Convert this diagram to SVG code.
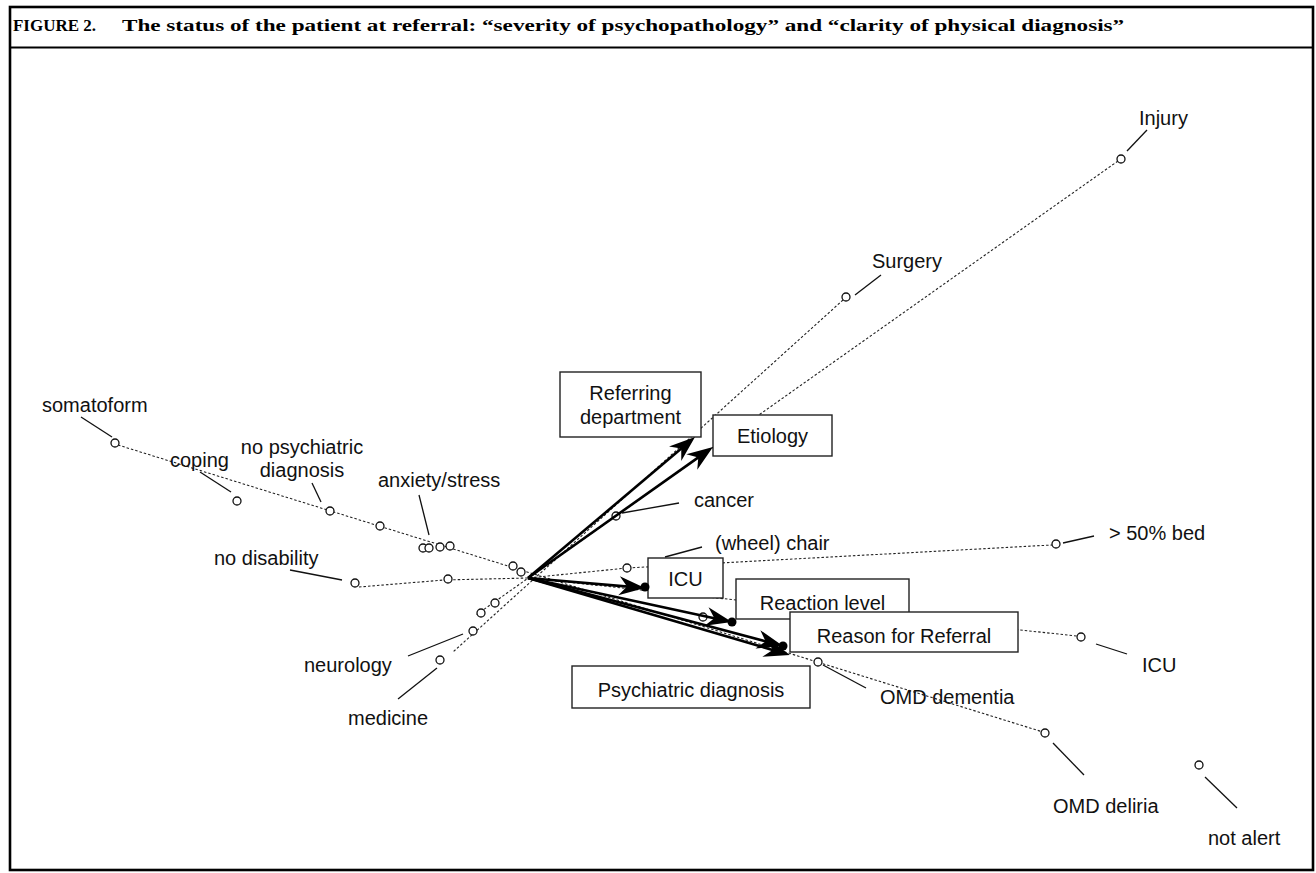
<svg xmlns="http://www.w3.org/2000/svg" width="1316" height="873" viewBox="0 0 1316 873">
<style>
.ttl{font-family:"Liberation Serif","Times New Roman",serif;font-weight:bold;font-size:17.5px;fill:#000}
.lbl{font-family:"Liberation Sans",Arial,sans-serif;font-size:20px;fill:#111}
.box{fill:#fff;stroke:#222;stroke-width:1.4}
.dot{fill:none;stroke:#222;stroke-width:1.1;stroke-dasharray:2.5 2}
.pt{fill:#fff;stroke:#111;stroke-width:1.3}
.ldr{stroke:#111;stroke-width:1.3;fill:none}
.arr{stroke:#000;stroke-width:2.6;fill:none;marker-end:url(#ah)}
.tip{fill:#000}
</style>
<defs>
<marker id="ah" viewBox="-16 -11 30 22" refX="0" refY="0" markerWidth="30" markerHeight="22" markerUnits="userSpaceOnUse" orient="auto">
<path d="M11,0 L-15,-9.5 L-7,0 L-15,9.5 Z" fill="#000"/>
</marker>
</defs>
<rect x="0" y="0" width="1316" height="873" fill="#fff"/>
<g id="frame">
<rect x="10" y="7" width="1303" height="863" fill="none" stroke="#000" stroke-width="2.6"/>
<line x1="10" y1="47.5" x2="1313" y2="47.5" stroke="#000" stroke-width="2"/>
<text class="ttl" x="13" y="31" textLength="83" lengthAdjust="spacingAndGlyphs">FIGURE 2.</text>
<text class="ttl" transform="translate(122,31) scale(1.31,1)" x="0" y="0" textLength="765" lengthAdjust="spacingAndGlyphs">The status of the patient at referral: “severity of psychopathology” and “clarity of physical diagnosis”</text>
</g>
<g id="connectors">
<line class="dot" x1="118" y1="445" x2="1043" y2="732"/>
<polyline class="dot" points="359,587 444,580 528,578 627,568 1052,545"/>
<line class="dot" x1="1118" y1="161" x2="476" y2="615"/>
<line class="dot" x1="843" y1="300" x2="453" y2="652"/>
<line class="dot" x1="528" y1="578" x2="1077" y2="636"/>
<line class="ldr" x1="81" y1="417" x2="112" y2="437"/>
<line class="ldr" x1="200" y1="472" x2="231" y2="492"/>
<line class="ldr" x1="312" y1="483" x2="321" y2="502"/>
<line class="ldr" x1="419" y1="495" x2="429" y2="535"/>
<line class="ldr" x1="290" y1="570" x2="342" y2="580"/>
<line class="ldr" x1="408" y1="656" x2="463" y2="634"/>
<line class="ldr" x1="398" y1="699" x2="437" y2="668"/>
<line class="ldr" x1="1147" y1="130" x2="1127" y2="151"/>
<line class="ldr" x1="881" y1="275" x2="855" y2="295"/>
<line class="ldr" x1="679" y1="503" x2="622" y2="513"/>
<line class="ldr" x1="702" y1="547" x2="665" y2="557"/>
<line class="ldr" x1="1063" y1="543" x2="1094" y2="536"/>
<line class="ldr" x1="1096" y1="644" x2="1127" y2="654"/>
<line class="ldr" x1="823" y1="665" x2="866" y2="688"/>
<line class="ldr" x1="1053" y1="743" x2="1084" y2="775"/>
<line class="ldr" x1="1205" y1="777" x2="1237" y2="808"/>
</g>
<g id="points">
<circle class="pt" cx="115" cy="443" r="4"/>
<circle class="pt" cx="237" cy="501" r="4"/>
<circle class="pt" cx="330" cy="511" r="4"/>
<circle class="pt" cx="380" cy="526" r="4"/>
<circle class="pt" cx="423" cy="548" r="4"/>
<circle class="pt" cx="429" cy="548" r="4"/>
<circle class="pt" cx="440" cy="547" r="4"/>
<circle class="pt" cx="450" cy="546" r="4"/>
<circle class="pt" cx="513" cy="566" r="4"/>
<circle class="pt" cx="521" cy="572" r="4"/>
<circle class="pt" cx="355" cy="583" r="4"/>
<circle class="pt" cx="448" cy="579" r="4"/>
<circle class="pt" cx="495" cy="603" r="4"/>
<circle class="pt" cx="481" cy="613" r="4"/>
<circle class="pt" cx="473" cy="631" r="4"/>
<circle class="pt" cx="440" cy="660" r="4"/>
<circle class="pt" cx="616" cy="516" r="4"/>
<circle class="pt" cx="627" cy="568" r="4"/>
<circle class="pt" cx="1056" cy="544" r="4"/>
<circle class="pt" cx="846" cy="297" r="4"/>
<circle class="pt" cx="1121" cy="159" r="4"/>
<circle class="pt" cx="703" cy="617" r="4"/>
<circle class="pt" cx="1081" cy="637" r="4"/>
<circle class="pt" cx="818" cy="662" r="4"/>
<circle class="pt" cx="1045" cy="733" r="4"/>
<circle class="pt" cx="1199" cy="765" r="4"/>
</g>
<g id="labels">
<text class="lbl" x="42" y="412">somatoform</text>
<text class="lbl" x="170" y="467">coping</text>
<text class="lbl" x="302" y="454" text-anchor="middle">no psychiatric</text>
<text class="lbl" x="302" y="477" text-anchor="middle">diagnosis</text>
<text class="lbl" x="378" y="487">anxiety/stress</text>
<text class="lbl" x="214" y="565">no disability</text>
<text class="lbl" x="304" y="672">neurology</text>
<text class="lbl" x="348" y="725">medicine</text>
<text class="lbl" x="1139" y="125">Injury</text>
<text class="lbl" x="872" y="268">Surgery</text>
<text class="lbl" x="694" y="507">cancer</text>
<text class="lbl" x="715" y="550">(wheel) chair</text>
<text class="lbl" x="1109" y="540">&gt; 50% bed</text>
<text class="lbl" x="1142" y="672">ICU</text>
<text class="lbl" x="880" y="704">OMD dementia</text>
<text class="lbl" x="1053" y="813">OMD deliria</text>
<text class="lbl" x="1208" y="845">not alert</text>
</g>
<g id="node-referring">
<rect class="box" x="560" y="372" width="141" height="65"/>
<text class="lbl" x="630.5" y="400" text-anchor="middle">Referring</text>
<text class="lbl" x="630.5" y="424" text-anchor="middle">department</text>
</g>
<g id="node-etiology">
<rect class="box" x="713" y="415" width="119" height="41"/>
<text class="lbl" x="772.5" y="443" text-anchor="middle">Etiology</text>
</g>
<g id="node-icu">
<rect class="box" x="648" y="558" width="75" height="40"/>
<text class="lbl" x="685.5" y="586" text-anchor="middle">ICU</text>
</g>
<g id="node-reaction">
<rect class="box" x="736" y="579" width="173" height="40"/>
<text class="lbl" x="822.5" y="610" text-anchor="middle">Reaction level</text>
</g>
<g id="node-reason">
<rect class="box" x="790" y="612" width="228" height="40"/>
<text class="lbl" x="904" y="643" text-anchor="middle">Reason for Referral</text>
</g>
<g id="node-psych">
<rect class="box" x="572" y="666" width="238" height="42"/>
<text class="lbl" x="691" y="697" text-anchor="middle">Psychiatric diagnosis</text>
</g>
<g id="arrows">
<line class="arr" x1="528" y1="578" x2="686.6" y2="444.1"/>
<line class="arr" x1="528" y1="578" x2="704.0" y2="453.4"/>
<line class="arr" x1="528" y1="578" x2="634" y2="587.1"/>
<line class="arr" x1="528" y1="578" x2="721.2" y2="619.7"/>
<line class="arr" x1="528" y1="578" x2="772.4" y2="643.2"/>
<line class="arr" x1="528" y1="578" x2="779.4" y2="651.9"/>
<circle class="tip" cx="645" cy="587" r="4.5"/>
<circle class="tip" cx="732" cy="622" r="4.5"/>
<circle class="tip" cx="783" cy="646" r="4.5"/>
</g>
</svg>
